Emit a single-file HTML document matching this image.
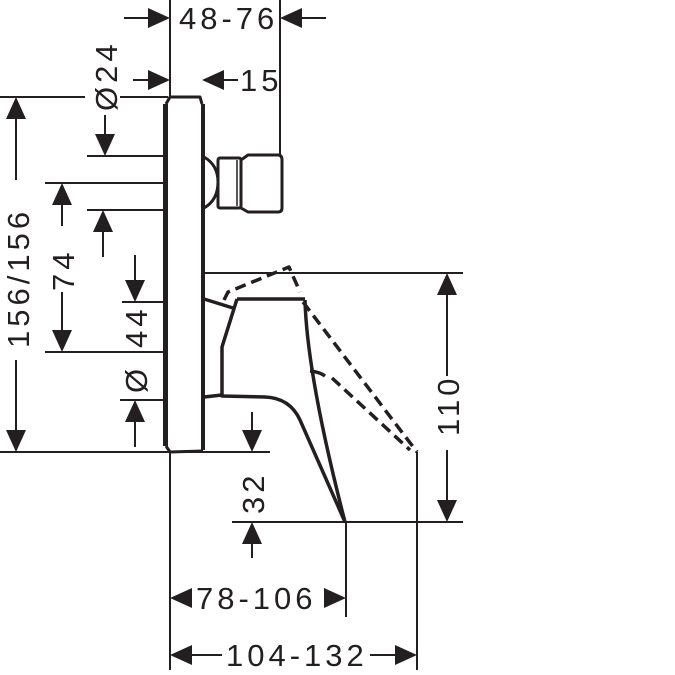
<!DOCTYPE html>
<html><head><meta charset="utf-8"><style>
html,body{margin:0;padding:0;background:#fff}
svg{display:block}
text{font-family:"Liberation Sans",sans-serif;font-size:31px;fill:#231f20;letter-spacing:4px}
</style></head><body>
<svg width="675" height="675" viewBox="0 0 675 675" xmlns="http://www.w3.org/2000/svg">
<g stroke="#231f20" fill="none" stroke-width="2">
<line x1="170" y1="0" x2="170" y2="97"/>
<line x1="280" y1="0" x2="280" y2="156"/>
<line x1="0" y1="97" x2="85" y2="97"/>
<line x1="120" y1="97" x2="168" y2="97"/>
<line x1="87" y1="156" x2="164" y2="156"/>
<line x1="45" y1="183" x2="164" y2="183"/>
<line x1="87" y1="210" x2="164" y2="210"/>
<line x1="122" y1="302" x2="164" y2="302"/>
<line x1="45" y1="352" x2="164" y2="352"/>
<line x1="120" y1="400" x2="164" y2="400"/>
<line x1="0" y1="452" x2="270" y2="452"/>
<line x1="205" y1="273" x2="463" y2="273"/>
<line x1="232" y1="522" x2="463" y2="522"/>
<line x1="170" y1="452" x2="170" y2="670"/>
<line x1="346" y1="522" x2="346" y2="617"/>
<line x1="417" y1="452" x2="417" y2="670"/>
<line x1="124" y1="18" x2="150" y2="18"/>
<line x1="300" y1="18" x2="326" y2="18"/>
<line x1="133" y1="80" x2="150" y2="80"/>
<line x1="222" y1="80" x2="238" y2="80"/>
<line x1="105" y1="115" x2="105" y2="135"/>
<line x1="16" y1="118" x2="16" y2="180"/>
<line x1="16" y1="360" x2="16" y2="432"/>
<line x1="62" y1="204" x2="62" y2="226"/>
<line x1="62" y1="292" x2="62" y2="332"/>
<line x1="103" y1="230" x2="103" y2="257"/>
<line x1="135" y1="255" x2="135" y2="282"/>
<line x1="135" y1="420" x2="135" y2="447"/>
<line x1="252" y1="412" x2="252" y2="432"/>
<line x1="252" y1="542" x2="252" y2="558"/>
<line x1="447" y1="294" x2="447" y2="376"/>
<line x1="447" y1="450" x2="447" y2="502"/>
<line x1="190" y1="655" x2="222" y2="655"/>
<line x1="370" y1="655" x2="397" y2="655"/>
</g>
<g fill="#231f20">
<polygon points="170,18 148,8 148,28"/>
<polygon points="280,18 302,8 302,28"/>
<polygon points="170,80 148,70 148,90"/>
<polygon points="202,80 224,70 224,90"/>
<polygon points="105,156 95,134 115,134"/>
<polygon points="16,97 6,119 26,119"/>
<polygon points="16,452 6,430 26,430"/>
<polygon points="62,183 52,205 72,205"/>
<polygon points="62,352 52,330 72,330"/>
<polygon points="103,210 93,232 113,232"/>
<polygon points="135,302 125,280 145,280"/>
<polygon points="135,400 125,422 145,422"/>
<polygon points="252,452 242,430 262,430"/>
<polygon points="252,522 242,544 262,544"/>
<polygon points="447,273 437,295 457,295"/>
<polygon points="447,522 437,500 457,500"/>
<polygon points="170,598 192,588 192,608"/>
<polygon points="346,598 324,588 324,608"/>
<polygon points="170,655 192,645 192,665"/>
<polygon points="417,655 395,645 395,665"/>
</g>
<g stroke="#231f20" fill="none" stroke-linejoin="round">
<path d="M166,104 L170,97 L200,97 L202,104" stroke-width="3"/>
<line x1="165.5" y1="104" x2="165.5" y2="446" stroke-width="5"/>
<line x1="203" y1="104" x2="203" y2="450" stroke-width="4"/>
<path d="M166,446 L170,452 L203,451" stroke-width="3"/>
<path d="M204,157 Q218,165 218,182 Q218,200 204,208" stroke-width="3"/>
<rect x="218" y="158" width="23" height="50" rx="2" stroke-width="3"/>
<line x1="237" y1="160" x2="237" y2="206" stroke-width="1.5"/>
<path d="M241,160 L248,155 L278,155 Q282,155 282,160 L282,208 Q282,212 278,212 L248,212 L241,208" stroke-width="3"/>
<path d="M204,299 L233,308" stroke-width="3.5"/>
<path d="M204,397 L222,395" stroke-width="3.5"/>
<path d="M237,299 L305,299 M237,299 L222,347 L222,396 L265,397 Q290,398 300,420 L345,522" stroke-width="3.5"/>
<path d="M305,300 Q307,375 345,522" stroke-width="3.5"/>
<path d="M310,371 Q320,372 325,376" stroke-width="3.5"/>
<g stroke-dasharray="11,6" stroke-width="3.5">
<path d="M224,300 L228,292 L289,267 L300,292"/>
<path d="M303,302 L417,452"/>
<path d="M332,378 L410,450"/>
</g>
</g>
<text x="179" y="29">48-76</text>
<text x="240" y="91">15</text>
<text x="196" y="609" letter-spacing="4">78-106</text>
<text x="226" y="666" letter-spacing="4">104-132</text>
<text transform="translate(117,111) rotate(-90)">Ø24</text>
<text transform="translate(29,348) rotate(-90)" letter-spacing="4">156/156</text>
<text transform="translate(74,291) rotate(-90)">74</text>
<text transform="translate(147,348) rotate(-90)">44</text>
<text transform="translate(147,393) rotate(-90)">Ø</text>
<text transform="translate(264,514) rotate(-90)">32</text>
<text transform="translate(459,436) rotate(-90)">110</text>
</svg>
</body></html>
